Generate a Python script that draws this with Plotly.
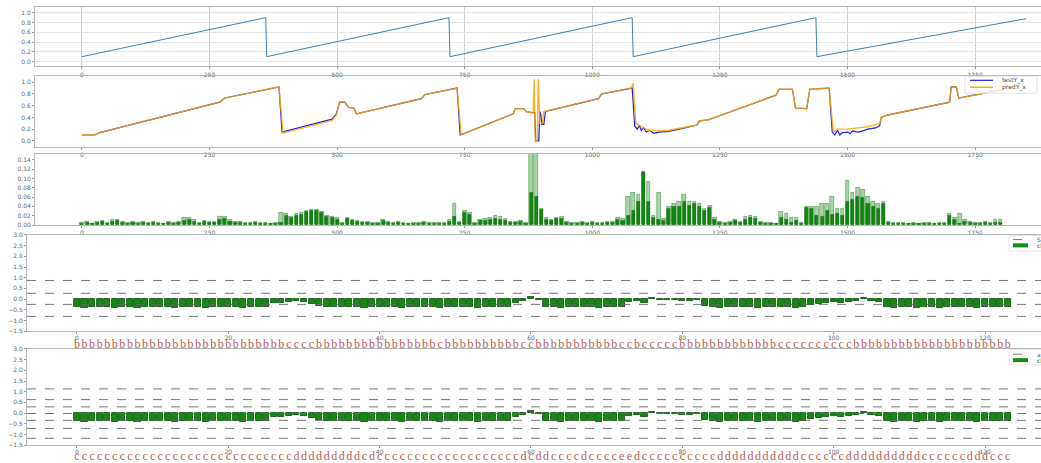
import plotly.graph_objects as go

# ---------------- data ----------------
# panel 1: sawtooth (day-of-year style)
saw_x = [0, 360, 362, 719, 721, 1078, 1080, 1438, 1440, 1850]
saw_y = [0.1, 0.9, 0.1, 0.9, 0.1, 0.9, 0.1, 0.9, 0.1, 0.88]

# panel 2: actual (blue) and predicted (orange)
test_x = [0, 25, 35, 270, 280, 380, 386, 392, 490, 498, 505, 515, 522, 533, 538, 665, 672, 735, 741,
          845, 849, 866, 870, 882, 887, 889, 895, 897, 899, 901, 905, 908, 1012, 1018, 1078, 1083,
          1088, 1092, 1096, 1100, 1106, 1112, 1120, 1130, 1150, 1170, 1205, 1210, 1228, 1360, 1366,
          1392, 1398, 1420, 1426, 1464, 1470, 1475, 1480, 1485, 1490, 1500, 1505, 1510, 1520, 1530,
          1540, 1555, 1563, 1566, 1578, 1700, 1703, 1713, 1718, 1800]
test_y = [0.10, 0.10, 0.14, 0.66, 0.73, 0.92, 0.92, 0.15, 0.37, 0.45, 0.66, 0.66, 0.57, 0.56, 0.46,
          0.72, 0.79, 0.90, 0.10, 0.46, 0.55, 0.55, 0.50, 0.48, 0.48, 0.0, 0.0, 0.50, 0.45, 0.28,
          0.28, 0.50, 0.72, 0.80, 0.90, 0.25, 0.20, 0.26, 0.18, 0.22, 0.15, 0.18, 0.13, 0.15, 0.16,
          0.20, 0.27, 0.34, 0.36, 0.78, 0.88, 0.88, 0.56, 0.55, 0.88, 0.90, 0.15, 0.10, 0.18, 0.10,
          0.14, 0.15, 0.12, 0.17, 0.15, 0.17, 0.20, 0.22, 0.26, 0.40, 0.44, 0.66, 0.92, 0.92, 0.73,
          0.87]
pred_x = [0, 25, 35, 270, 280, 380, 386, 394, 490, 498, 505, 515, 522, 533, 538, 665, 672, 735, 743,
          845, 849, 866, 870, 880, 884, 886, 888, 892, 894, 897, 902, 905, 1012, 1018, 1076, 1080,
          1085, 1095, 1110, 1130, 1150, 1205, 1210, 1228, 1360, 1366, 1392, 1398, 1420, 1426, 1464,
          1472, 1480, 1500, 1520, 1540, 1563, 1566, 1578, 1700, 1703, 1713, 1718, 1805]
pred_y = [0.10, 0.10, 0.14, 0.66, 0.73, 0.92, 0.92, 0.13, 0.35, 0.43, 0.66, 0.66, 0.57, 0.56, 0.46,
          0.72, 0.79, 0.90, 0.10, 0.46, 0.55, 0.55, 0.50, 0.48, 0.48, 1.05, 0.0, 0.0, 1.05, 0.30,
          0.30, 0.50, 0.72, 0.80, 0.90, 0.98, 0.30, 0.25, 0.18, 0.17, 0.18, 0.27, 0.34, 0.36, 0.78,
          0.88, 0.88, 0.56, 0.55, 0.88, 0.90, 0.15, 0.20, 0.20, 0.22, 0.24, 0.30, 0.40, 0.44, 0.66,
          0.92, 0.92, 0.73, 0.87]
legend2_names = ["testY_x", "predY_x"]

# panel 3: absolute errors (10-step bins)
err_x = list(range(0, 1801, 10))
err_dark = [0.004, 0.006, 0.003, 0.005, 0.007, 0.004,
            0.008, 0.009, 0.005, 0.004, 0.006, 0.003, 0.005,
            0.004, 0.006, 0.003, 0.002, 0.005, 0.004, 0.006,
            0.010, 0.011, 0.008, 0.004, 0.007, 0.005, 0.006,
            0.012, 0.013, 0.008, 0.005, 0.006, 0.003, 0.004,
            0.005, 0.003, 0.004, 0.002, 0.004, 0.006,
            0.020, 0.015, 0.021, 0.023, 0.028, 0.030, 0.031, 0.026, 0.018, 0.016,
            0.011, 0.004, 0.014, 0.009, 0.007, 0.005, 0.006, 0.004, 0.003, 0.009,
            0.006, 0.004, 0.005, 0.003, 0.002, 0.004, 0.003, 0.005, 0.004, 0.003,
            0.004, 0.003, 0.008, 0.018, 0.005, 0.027, 0.022, 0.004, 0.009, 0.010,
            0.011, 0.013, 0.012, 0.010, 0.006, 0.005, 0.007, 0.004, 0.070, 0.060,
            0.032, 0.012, 0.009, 0.013, 0.014, 0.005, 0.004, 0.003, 0.006, 0.004,
            0.005, 0.004, 0.003, 0.006, 0.005, 0.012, 0.009, 0.020, 0.030, 0.050,
            0.115, 0.050, 0.015, 0.012, 0.010, 0.035, 0.040, 0.040, 0.050, 0.042,
            0.045, 0.040, 0.030, 0.038, 0.012, 0.005, 0.004, 0.006, 0.009, 0.005,
            0.012, 0.015, 0.013, 0.005, 0.003, 0.004, 0.002, 0.015, 0.012, 0.006,
            0.009, 0.004, 0.038, 0.035, 0.020, 0.018, 0.030, 0.022, 0.025, 0.020,
            0.050, 0.055, 0.060, 0.058, 0.045, 0.040, 0.035, 0.045, 0.005, 0.004,
            0.004, 0.003, 0.002, 0.003, 0.002, 0.004, 0.003, 0.002, 0.003, 0.004,
            0.020, 0.012, 0.004, 0.008, 0.005, 0.004, 0.003, 0.005, 0.004, 0.006,
            0.005]
err_light = [0.006, 0.008, 0.004, 0.007, 0.010, 0.006,
             0.011, 0.012, 0.007, 0.006, 0.008, 0.005, 0.007,
             0.006, 0.008, 0.005, 0.004, 0.007, 0.006, 0.008,
             0.016, 0.015, 0.011, 0.006, 0.009, 0.007, 0.008,
             0.019, 0.017, 0.011, 0.007, 0.008, 0.005, 0.006,
             0.007, 0.005, 0.006, 0.004, 0.006, 0.026,
             0.024, 0.019, 0.024, 0.027, 0.031, 0.033, 0.033, 0.029, 0.021, 0.018,
             0.015, 0.006, 0.016, 0.012, 0.009, 0.007, 0.008, 0.006, 0.005, 0.012,
             0.008, 0.006, 0.007, 0.005, 0.004, 0.006, 0.005, 0.007, 0.006, 0.005,
             0.006, 0.005, 0.011, 0.045, 0.008, 0.030, 0.026, 0.006, 0.012, 0.013,
             0.016, 0.020, 0.018, 0.013, 0.008, 0.007, 0.009, 0.006, 0.160, 0.160,
             0.036, 0.015, 0.012, 0.016, 0.017, 0.007, 0.006, 0.005, 0.008, 0.006,
             0.007, 0.006, 0.005, 0.008, 0.007, 0.016, 0.013, 0.060, 0.070, 0.065,
             0.110, 0.093, 0.020, 0.070, 0.014, 0.040, 0.045, 0.050, 0.065, 0.050,
             0.050, 0.045, 0.035, 0.042, 0.016, 0.007, 0.006, 0.008, 0.012, 0.007,
             0.017, 0.020, 0.018, 0.007, 0.005, 0.006, 0.004, 0.029, 0.025, 0.015,
             0.015, 0.006, 0.040, 0.040, 0.040, 0.045, 0.045, 0.060, 0.035, 0.035,
             0.095, 0.070, 0.080, 0.075, 0.060, 0.050, 0.045, 0.050, 0.008, 0.006,
             0.006, 0.005, 0.004, 0.005, 0.004, 0.006, 0.005, 0.004, 0.005, 0.006,
             0.025, 0.016, 0.025, 0.011, 0.008, 0.006, 0.005, 0.007, 0.006, 0.012,
             0.012]

# panels 4/5: per-window values, class letters
win_vals = ([-0.38, -0.40, -0.37, -0.39, -0.38, -0.41, -0.38, -0.37, -0.40, -0.38, -0.39, -0.37, -0.38,
             -0.40, -0.38, -0.37, -0.39, -0.42, -0.38, -0.37, -0.39, -0.38, -0.40, -0.38, -0.37, -0.39]
            + [-0.18, -0.16, -0.14, -0.10, -0.12, -0.22]
            + [-0.34, -0.38, -0.36, -0.39, -0.38, -0.37, -0.40, -0.38, -0.37, -0.39, -0.38, -0.40, -0.38,
               -0.37, -0.39, -0.38, -0.40, -0.38, -0.37, -0.39, -0.38, -0.40, -0.38, -0.37, -0.39, -0.38]
            + [-0.20, -0.08, 0.08, -0.05]
            + [-0.36, -0.38, -0.40, -0.38, -0.37, -0.39, -0.38, -0.40, -0.38, -0.37, -0.39]
            + [-0.12, -0.10, -0.16, 0.04, -0.06, -0.04, -0.02, -0.08, -0.10, -0.06]
            + [-0.34, -0.38, -0.40, -0.38, -0.37, -0.39, -0.38, -0.40, -0.38, -0.37, -0.39, -0.38, -0.40, -0.36]
            + [-0.26, -0.22, -0.18, -0.15, -0.18, -0.12, -0.08, 0.06, -0.10, -0.14]
            + [-0.38, -0.40, -0.39, -0.38, -0.41, -0.38, -0.37, -0.40, -0.38, -0.39, -0.37, -0.38,
               -0.40, -0.38, -0.37, -0.39, -0.38])
win_idx = list(range(len(win_vals)))
letters4 = ("bbbbbbbbbbbbbbbbbbbbbbbbbbbb" "cccc" "bbbbbbbbbbbbbbbb" "c" "bbbbbbbbbb" "cc"
            "bbbbbbbbbbb" "cc" "b" "ccccc" "bbbbbbbbbbbbb" "cccccccccc" "bbbbbbbbbbbbbbbbbbbbb")
letters5 = ("ccccccccccccccccccccccccccccc" "ddddddddd" "cdc" "cccccccccccccccccc" "dcddcccc"
            "dcccceedcccccccccc" "ddddddddddd" "cccccc" "dddddddddd" "cccccc" "dddccccccc")
thr4 = [0.87, 0.27, -0.25, -0.81]
thr5 = [1.13, 0.63, 0.29, -0.02, -0.34, -0.72, -1.18]
legend4_names = ["S", "cl"]
legend5_names = ["a", "cl"]

# ---------------- figure ----------------
W, H = 1041, 463
TICKF = dict(family="DejaVu Sans", size=6, color="#666")
LETTER_COLOR = "#b85c5c"

fig = go.Figure()

fig.add_trace(go.Scatter(x=saw_x, y=saw_y, mode="lines", line=dict(color="#3b7fb5", width=1),
                         showlegend=False, xaxis="x", yaxis="y"))

fig.add_trace(go.Scatter(x=test_x, y=test_y, mode="lines", line=dict(color="#2020d8", width=1.2),
                         showlegend=False, xaxis="x2", yaxis="y2"))
fig.add_trace(go.Scatter(x=pred_x, y=pred_y, mode="lines", opacity=0.85,
                         line=dict(color="#ffa500", width=1.4), showlegend=False, xaxis="x2", yaxis="y2"))

fig.add_trace(go.Bar(x=err_x, y=err_light, width=7, marker=dict(color="rgba(60,160,60,0.45)",
                     line=dict(color="rgba(0,100,0,0.6)", width=0.6)),
                     showlegend=False, xaxis="x3", yaxis="y3"))
fig.add_trace(go.Bar(x=err_x, y=err_dark, width=6, marker=dict(color="rgba(0,128,0,0.9)",
                     line=dict(color="rgba(0,90,0,0.9)", width=0.5)),
                     showlegend=False, xaxis="x3", yaxis="y3"))

for xa, ya in [("x4", "y4"), ("x5", "y5")]:
    fig.add_trace(go.Bar(x=win_idx, y=win_vals, width=0.8,
                         marker=dict(color="#138a13", line=dict(color="#0a4a0a", width=0.8)),
                         showlegend=False, xaxis=xa, yaxis=ya))

# letter rows on overlay axes
fig.add_trace(go.Scatter(x=win_idx, y=[None] * len(win_idx), mode="lines", showlegend=False,
                         xaxis="x6", yaxis="y4", hoverinfo="skip"))
fig.add_trace(go.Scatter(x=win_idx, y=[None] * len(win_idx), mode="lines", showlegend=False,
                         xaxis="x7", yaxis="y5", hoverinfo="skip"))

shapes = []
for xref, yref, thr in [("x4", "y4", thr4), ("x5", "y5", thr5)]:
    for t in thr:
        shapes.append(dict(type="line", xref=xref + " domain", x0=0, x1=1,
                           yref=yref, y0=t, y1=t, line=dict(color="#666", width=0.9, dash="dash")))


def py(px):
    return 1 - px / H


def px_dom_y(top, bottom):
    return [py(bottom), py(top)]


# hand-drawn compact legends (matplotlib style)
annotations = []


def add_legend(box, rows, names):
    x0, x1, y0, y1 = box
    shapes.append(dict(type="rect", xref="paper", yref="paper", x0=x0 / W, x1=x1 / W, y0=py(y1), y1=py(y0),
                       line=dict(color="#dddddd", width=0.8), fillcolor="rgba(255,255,255,0.8)", layer="above"))
    for (sx0, sx1, sy, color, width, dash), name in zip(rows, names):
        shapes.append(dict(type="line", xref="paper", yref="paper", x0=sx0 / W, x1=sx1 / W, y0=py(sy), y1=py(sy),
                           line=dict(color=color, width=width, dash=dash), layer="above"))
        annotations.append(dict(xref="paper", yref="paper", x=(sx1 + 7) / W, y=py(sy), xanchor="left",
                                yanchor="middle", text=name, showarrow=False,
                                font=dict(family="DejaVu Sans", size=6, color="#444")))


add_legend((965, 1037, 77, 94), [(970, 993, 81, "#2020d8", 1.2, "solid"),
                                 (970, 993, 88, "#ffa500", 1.4, "solid")], legend2_names)
add_legend((1009, 1050, 237.5, 253), [(1013, 1028, 241.7, "#777", 1, "dash"),
                                      (1013, 1028, 247.5, "#138a13", 4, "solid")], legend4_names)
add_legend((1009, 1050, 352.5, 368), [(1013, 1028, 357.3, "#777", 1, "dash"),
                                      (1013, 1028, 363.3, "#138a13", 4, "solid")], legend5_names)

axcommon = dict(showline=True, mirror=True, linecolor="#b5b5b5", linewidth=1, ticks="outside",
                ticklen=2, tickcolor="#999", tickfont=TICKF, zeroline=False, showgrid=False,
                automargin=False)

dom_top = [35 / W, 1]
dom_bot = [27 / W, 1]
xr_top = [-92, 1879]
xr_bot = [-6.6, 127.4]
top_ticks = [0, 250, 500, 750, 1000, 1250, 1500, 1750]
bot_ticks = [0, 20, 40, 60, 80, 100, 120]
p45_yticks = [-1.5, -1, -0.5, 0, 0.5, 1, 1.5, 2, 2.5, 3]

layout = dict(
    width=W, height=H, margin=dict(l=0, r=0, t=0, b=0), showlegend=False,
    paper_bgcolor="white", plot_bgcolor="white", barmode="overlay", bargap=0,
    shapes=shapes, annotations=annotations,
    xaxis=dict(domain=dom_top, range=xr_top, anchor="y", tickvals=top_ticks,
               **{**axcommon, "showgrid": True, "gridcolor": "#cfcfcf"}),
    yaxis=dict(domain=px_dom_y(7, 67), range=[-0.1, 1.12], anchor="x",
               tickvals=[0, 0.2, 0.4, 0.6, 0.8, 1.0], tickformat=".1f",
               **{**axcommon, "showgrid": True, "gridcolor": "#e6e6e6"}),
    xaxis2=dict(domain=dom_top, range=xr_top, anchor="y2", tickvals=top_ticks, **axcommon),
    yaxis2=dict(domain=px_dom_y(77, 148), range=[-0.1, 1.1], anchor="x2",
                tickvals=[0, 0.2, 0.4, 0.6, 0.8, 1.0], tickformat=".1f", **axcommon),
    xaxis3=dict(domain=dom_top, range=xr_top, anchor="y3", tickvals=top_ticks, **axcommon),
    yaxis3=dict(domain=px_dom_y(155, 227), range=[0, 0.153], anchor="x3",
                tickvals=[0, 0.02, 0.04, 0.06, 0.08, 0.10, 0.12, 0.14], tickformat=".2f", **axcommon),
    xaxis4=dict(domain=dom_bot, range=xr_bot, anchor="y4", tickvals=bot_ticks,
                **{**axcommon, "ticklabelstandoff": -1}),
    yaxis4=dict(domain=px_dom_y(237, 334), range=[-1.5, 3.0], anchor="x4",
                tickvals=p45_yticks, tickformat=".1f", **axcommon),
    xaxis5=dict(domain=dom_bot, range=xr_bot, anchor="y5", tickvals=bot_ticks,
                **{**axcommon, "ticklabelstandoff": -1}),
    yaxis5=dict(domain=px_dom_y(352, 449), range=[-1.5, 3.0], anchor="x5",
                tickvals=p45_yticks, tickformat=".1f", **axcommon),
    xaxis6=dict(overlaying="x4", anchor="y4", side="bottom", range=xr_bot, tickvals=win_idx,
                ticktext=list(letters4), tickangle=0, ticks="", showline=False, showgrid=False,
                zeroline=False, ticklabelstandoff=4,
                tickfont=dict(family="Liberation Serif", size=12, color=LETTER_COLOR)),
    xaxis7=dict(overlaying="x5", anchor="y5", side="bottom", range=xr_bot, tickvals=win_idx,
                ticktext=list(letters5), tickangle=0, ticks="", showline=False, showgrid=False,
                zeroline=False, ticklabelstandoff=2,
                tickfont=dict(family="Liberation Serif", size=12, color=LETTER_COLOR)),
)
fig.update_layout(**layout)
fig.write_html("out.html", config={"displayModeBar": False},
               post_script="document.body.style.margin='0';document.body.style.overflow='hidden';")
